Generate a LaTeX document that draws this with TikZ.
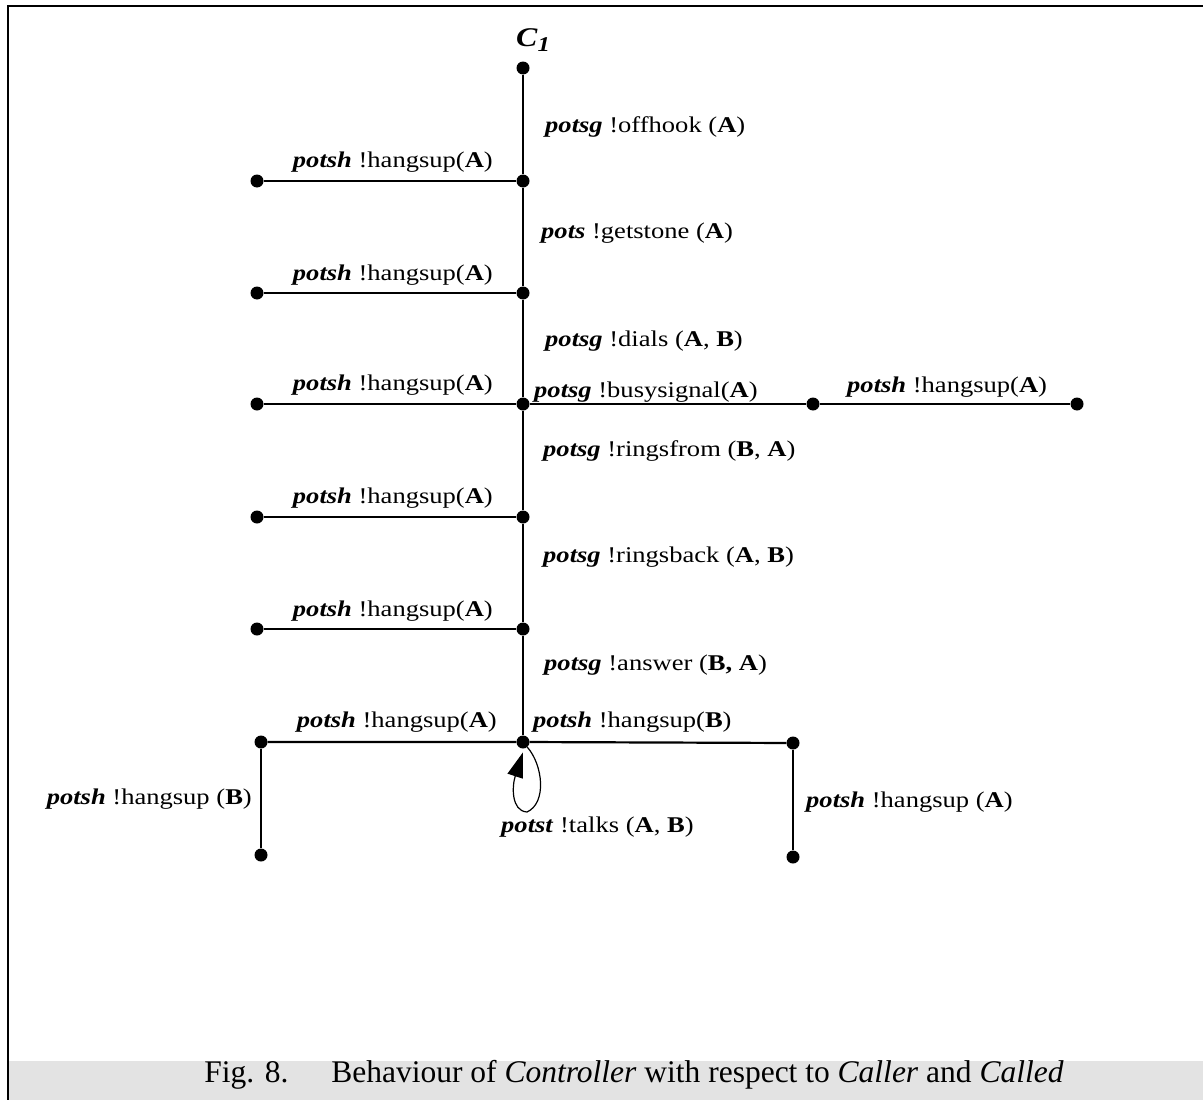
\documentclass[tikz,border=0pt]{standalone}
\usepackage{fontspec}
\setmainfont{Liberation Serif}
\usetikzlibrary{arrows.meta}

\definecolor{capgray}{HTML}{E3E3E3}
\newcommand{\pr}[1]{\textbf{\textit{#1}}}
\newcommand{\wide}[1]{\scalebox{1.18}[1]{#1}}

\tikzset{
  lbl/.style={inner sep=0pt, font=\fontsize{22.5}{26}\selectfont},
  dot/.style={circle, fill=black, inner sep=0pt, minimum size=13pt},
  wire/.style={line width=2.2pt},
  loopline/.style={line width=1.2pt, -{Triangle[length=25pt,width=16pt]}, shorten >=4pt},
}

\begin{document}
\begin{tikzpicture}[x=1pt,y=-1pt]
\useasboundingbox (0,0) rectangle (1203,1100);

% caption band and frame
\fill[capgray] (9,1061) rectangle (1203,1100);
\draw[wire] (8,1100) -- (8,6) -- (1203,6);

% states of the main path
\node[dot] (m1) at (523,68) {};
\node[dot] (m2) at (523,181) {};
\node[dot] (m3) at (523,293) {};
\node[dot] (m4) at (523,404) {};
\node[dot] (m5) at (523,517) {};
\node[dot] (m6) at (523,629) {};
\node[dot] (m7) at (523,742) {};

% hang-up branches on the left
\node[dot] (l2) at (257,181) {};
\node[dot] (l3) at (257,293) {};
\node[dot] (l4) at (257,404) {};
\node[dot] (l5) at (257,517) {};
\node[dot] (l6) at (257,629) {};
\node[dot] (l7) at (261,742) {};
\node[dot] (lb) at (261,855) {};

% busy-signal branch
\node[dot] (r4a) at (813,404) {};
\node[dot] (r4b) at (1077,404) {};

% right branch after answer
\node[dot] (r7) at (793,743) {};
\node[dot] (rb) at (793,857) {};

% connectors
\draw[wire] (m1) -- (m2) -- (m3) -- (m4) -- (m5) -- (m6) -- (m7);
\draw[wire] (l2) -- (m2);
\draw[wire] (l3) -- (m3);
\draw[wire] (l4) -- (m4) -- (r4a) -- (r4b);
\draw[wire] (l5) -- (m5);
\draw[wire] (l6) -- (m6);
\draw[wire] (l7) -- (m7) -- (r7);
\draw[wire] (l7) -- (lb);
\draw[wire] (r7) -- (rb);

% self loop on the talking state
\draw[loopline] (m7.-50) .. controls (543,765) and (547,803) .. (527,812)
  .. controls (511,811) and (512,786) .. (m7.-80);

% initial state label
\node[inner sep=0pt, font=\fontsize{27}{30}\selectfont] (c1) at (533,40) {\wide{\pr{C}\raisebox{-0.35ex}{\fontsize{21}{24}\selectfont\pr{1}}}};

% transition labels on the main path
\node[lbl, anchor=west] (t1) at (545,127) {\wide{\pr{potsg} !offhook (\textbf{A})}};
\node[lbl, anchor=west] (t2) at (541,233) {\wide{\pr{pots} !getstone (\textbf{A})}};
\node[lbl, anchor=west] (t3) at (545,341) {\wide{\pr{potsg} !dials (\textbf{A}, \textbf{B})}};
\node[lbl, anchor=west] (t4) at (543,451) {\wide{\pr{potsg} !ringsfrom (\textbf{B}, \textbf{A})}};
\node[lbl, anchor=west] (t5) at (543,557) {\wide{\pr{potsg} !ringsback (\textbf{A}, \textbf{B})}};
\node[lbl, anchor=west] (t6) at (544,665) {\wide{\pr{potsg} !answer (\textbf{B, A})}};

% labels of the left branches
\node[lbl, anchor=east] (h2) at (493,162) {\wide{\pr{potsh} !hangsup(\textbf{A})}};
\node[lbl, anchor=east] (h3) at (493,275) {\wide{\pr{potsh} !hangsup(\textbf{A})}};
\node[lbl, anchor=east] (h4) at (493,385) {\wide{\pr{potsh} !hangsup(\textbf{A})}};
\node[lbl, anchor=east] (h5) at (493,498) {\wide{\pr{potsh} !hangsup(\textbf{A})}};
\node[lbl, anchor=east] (h6) at (493,611) {\wide{\pr{potsh} !hangsup(\textbf{A})}};
\node[lbl, anchor=east] (h7) at (497,722) {\wide{\pr{potsh} !hangsup(\textbf{A})}};

% labels of the busy-signal branch
\node[lbl, anchor=west] (b1) at (534,392) {\wide{\pr{potsg} !busysignal(\textbf{A})}};
\node[lbl, anchor=west] (b2) at (847,387) {\wide{\pr{potsh} !hangsup(\textbf{A})}};

% labels after answer
\node[lbl, anchor=west] (a1) at (533,722) {\wide{\pr{potsh} !hangsup(\textbf{B})}};
\node[lbl, anchor=east] (a2) at (252,799) {\wide{\pr{potsh} !hangsup (\textbf{B})}};
\node[lbl, anchor=west] (a3) at (806,802) {\wide{\pr{potsh} !hangsup (\textbf{A})}};
\node[lbl, anchor=west] (a4) at (501,827) {\wide{\pr{potst} !talks (\textbf{A}, \textbf{B})}};

% caption
\node[inner sep=0pt, font=\fontsize{31.5}{34}\selectfont] (cap) at (634,1075)
  {Fig. 8.\hspace{43pt}Behaviour of \textit{Controller} with respect to \textit{Caller} and \textit{Called}};
\end{tikzpicture}
\end{document}
